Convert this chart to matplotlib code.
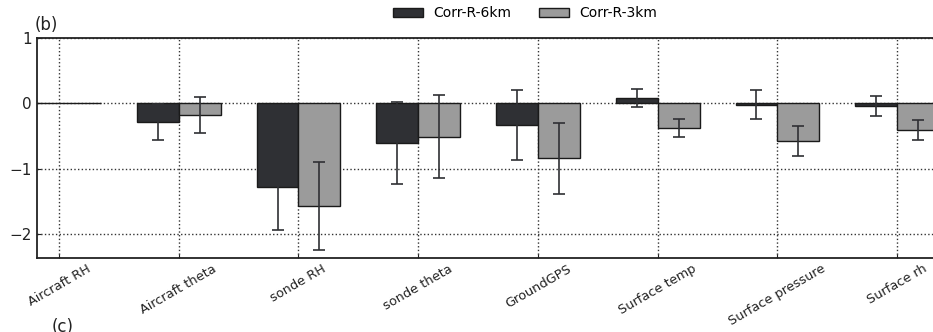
import numpy as np
import matplotlib.pyplot as plt

categories = ['Aircraft RH', 'Aircraft theta', 'sonde RH', 'sonde theta',
              'GroundGPS', 'Surface temp', 'Surface pressure', 'Surface rh']

corr_6km = [0.0, -0.29, -1.28, -0.61, -0.335, 0.08, -0.02, -0.04]
err_6km = [np.nan, 0.28, 0.66, 0.625, 0.54, 0.14, 0.22, 0.15]

corr_3km = [0.0, -0.185, -1.57, -0.51, -0.845, -0.377, -0.58, -0.405]
err_3km = [np.nan, 0.275, 0.67, 0.63, 0.54, 0.14, 0.23, 0.15]

dark = '#2f3034'
light = '#9b9b9b'
width = 0.35

fig = plt.figure(figsize=(9.33, 3.32), dpi=100)
ax = fig.add_axes([37 / 933, 1 - 258 / 332, 920 / 933, 220 / 332])

x = np.arange(len(categories))
ax.bar(x - width / 2, corr_6km, width, color=dark, edgecolor='#1a1a1a',
       linewidth=1.0, label='Corr-R-6km', zorder=2)
ax.bar(x + width / 2, corr_3km, width, color=light, edgecolor='#1a1a1a',
       linewidth=1.0, label='Corr-R-3km', zorder=2)

ax.errorbar(x - width / 2, corr_6km, yerr=err_6km, fmt='none', ecolor=dark,
            elinewidth=1.2, capsize=4, capthick=1.2, zorder=3)
ax.errorbar(x + width / 2, corr_3km, yerr=err_3km, fmt='none', ecolor=dark,
            elinewidth=1.2, capsize=4, capthick=1.2, zorder=3)

ax.set_xlim(-0.184, 7.5)
ax.set_ylim(-2.37, 1)
ax.set_yticks([-2, -1, 0, 1])
ax.set_yticklabels(['\u22122', '\u22121', '0', '1'], fontsize=11)
ax.set_xticks(x)
ax.set_xticklabels(categories, rotation=30, ha='center', fontsize=9.3,
                   color='#222222')
ax.tick_params(axis='both', direction='in', length=3, pad=4, colors='#222222')
ax.tick_params(axis='x', pad=3)
ax.grid(True, linestyle=':', color='#333333', linewidth=1.0, zorder=0)
ax.set_axisbelow(True)
for s in ax.spines.values():
    s.set_linewidth(1.3)
    s.set_color('#222222')

ax.legend(loc='lower center', bbox_to_anchor=(0.531, 1.055), ncol=2, frameon=False,
          fontsize=10, handlelength=2.1, handleheight=0.65, handletextpad=0.8,
          columnspacing=2.0, borderaxespad=0)

fig.text(35 / 933, 1 - 25 / 332, '(b)', fontsize=12, color='#222222', va='center')
fig.text(52 / 933, 1 - 327 / 332, '(c)', fontsize=12, color='#222222', va='center')

fig.savefig('out.png', dpi=100)
